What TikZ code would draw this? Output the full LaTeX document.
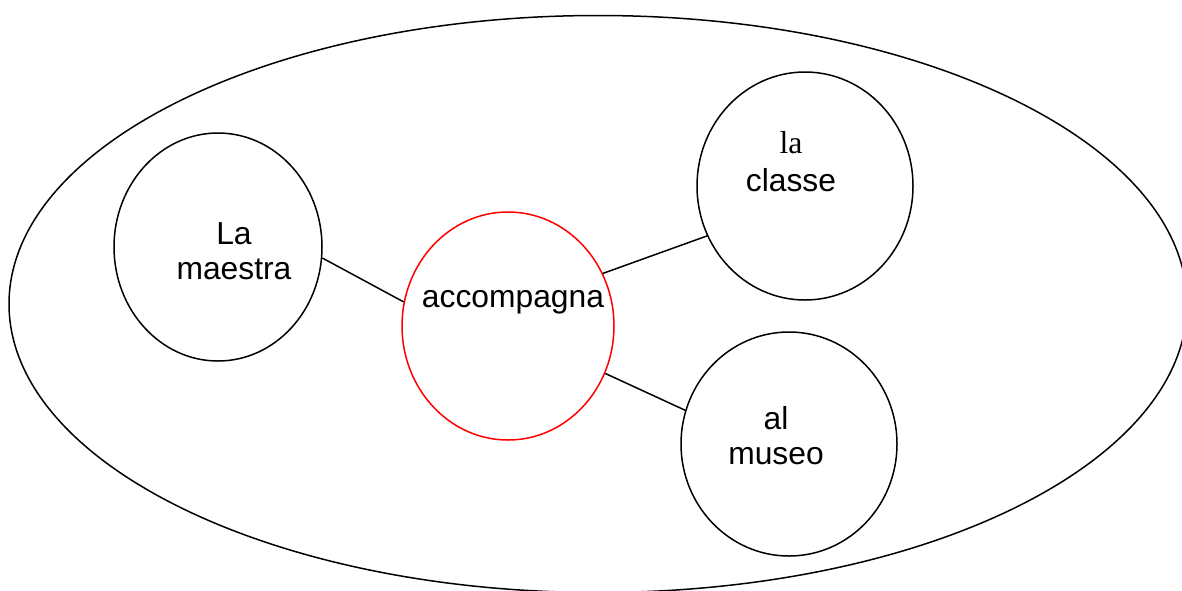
\documentclass[tikz,border=0pt]{standalone}
\usepackage{fontspec}
\setmainfont{Liberation Sans}
\newfontfamily\seriffont{Liberation Serif}
\usetikzlibrary{shapes.geometric}
\begin{document}
\begin{tikzpicture}[x=1pt,y=-1pt,
  bubble/.style={ellipse, draw=black, line width=1.5pt, inner sep=0pt},
  redbubble/.style={bubble, draw=red},
  lbl/.style={align=center, inner sep=0pt, font=\fontsize{31.8}{35}\selectfont},
  link/.style={draw=black, line width=1.5pt}]
\useasboundingbox (0,0) rectangle (1182,590);
\begin{scope}
\clip (0,0) rectangle (1182,590);
\node[bubble, minimum width=1178pt, minimum height=577pt] (outer) at (598,304) {};
\end{scope}
\node[bubble, minimum width=208pt, minimum height=228pt] (maestra) at (218,247) {};
\node[redbubble, minimum width=212pt, minimum height=228pt] (acc) at (508,326) {};
\node[bubble, minimum width=216pt, minimum height=228pt] (classe) at (805,186) {};
\node[bubble, minimum width=216pt, minimum height=224pt] (museo) at (789,444) {};
\node[lbl] (tmaestra) at (234,251) {La\\maestra};
\node[lbl] (tacc) at (513,302) {accompagna};
\node[lbl] (tclasse) at (791,162) {{\seriffont la}\\[3pt]classe};
\node[lbl] (tmuseo) at (776,436) {al\\museo};
\draw[link] (maestra.-6) -- (acc.167);
\draw[link] (acc.29.6) -- (classe.207.7);
\draw[link] (acc.-26.6) -- (museo.162);
\end{tikzpicture}
\end{document}
